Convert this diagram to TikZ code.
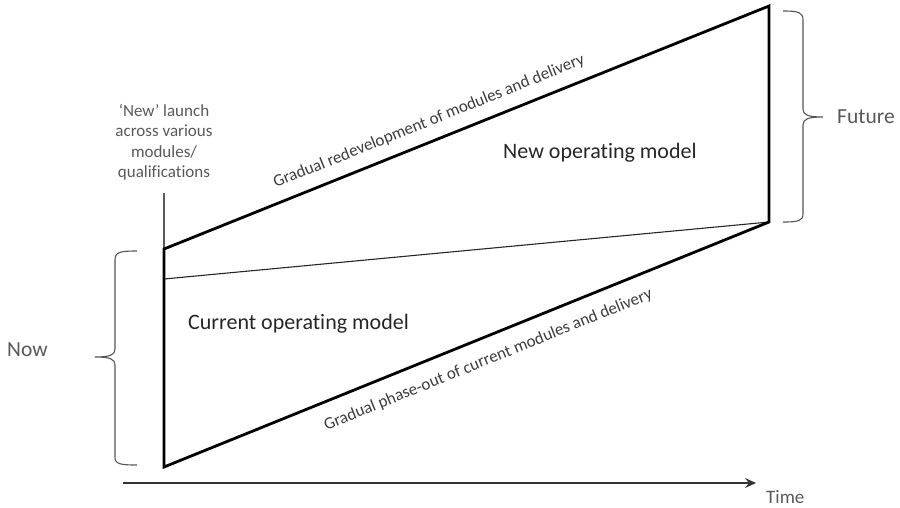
\documentclass[tikz,border=0pt]{standalone}
\usepackage{fontspec}
\setmainfont{Carlito}[Ligatures=NoCommon]
\usetikzlibrary{arrows.meta}
\definecolor{labelgray}{HTML}{595959}
\definecolor{textdark}{HTML}{262626}
\definecolor{bracegray}{HTML}{555555}
\tikzset{
  thickedge/.style={line width=2.8pt, black, line join=miter},
  thinedge/.style={line width=1.1pt, black!85},
  bracepath/.style={line width=1.1pt, bracegray},
  sidelabel/.style={font=\fontsize{21.5pt}{24pt}\selectfont, text=labelgray, inner sep=0pt, anchor=west},
  modellabel/.style={font=\fontsize{22pt}{26pt}\selectfont, text=textdark, inner sep=0pt, anchor=west},
  slantlabel/.style={font=\fontsize{17pt}{20pt}\selectfont, text=textdark!90, inner sep=0pt, sloped},
}
\begin{document}
\begin{tikzpicture}[x=1pt,y=-1pt]
\useasboundingbox (0,0) rectangle (900,507);
% corners
\coordinate (TL) at (164,249);
\coordinate (BL) at (164,467);
\coordinate (TR) at (769,6);
\coordinate (BR) at (769,222);
\coordinate (split) at (164,279);
\coordinate (launchtop) at (164,193);
\coordinate (tstart) at (123,483);
\coordinate (tend) at (756,483);

% thin split line and launch line
\draw[thinedge] (split) -- (BR);
\draw[line width=1.1pt, labelgray] (launchtop) -- (TL);

% parallelogram
\draw[thickedge] (TL) -- (TR) -- (BR) -- (BL) -- cycle;

% slanted labels
\path (TL) -- (TR) node[slantlabel, pos=0.45, above=12pt] (toplab) {Gradual redevelopment of modules and delivery};
\path (BL) -- (BR) node[slantlabel, pos=0.522, below=15pt] (botlab) {Gradual phase-out of current modules and delivery};

% model labels
\node[modellabel] (newmodel) at (503,153) {New operating model};
\node[modellabel] (curmodel) at (188,324) {Current operating model};

% launch label
\node[font=\fontsize{17pt}{20.5pt}\selectfont, text=labelgray, align=center, inner sep=0pt] (launch) at (164,142)
  {‘New’ launch\\across various\\modules/\\qualifications};

% left brace
\draw[bracepath] (137,251) .. controls (120,251) and (115,252) .. (115,260)
  -- (115,349) .. controls (115,355) and (110,357) .. (95,357)
  .. controls (110,357) and (115,359) .. (115,365)
  -- (115,457) .. controls (115,464) and (120,465) .. (137,465);
% right brace
\draw[bracepath] (783,11) .. controls (798,11) and (803,12) .. (803,20)
  -- (803,109) .. controls (803,115) and (808,117) .. (823,117)
  .. controls (808,117) and (803,119) .. (803,125)
  -- (803,214) .. controls (803,221) and (798,222) .. (783,222);

\node[sidelabel] (now) at (7,350) {Now};
\node[sidelabel] (future) at (837,117) {Future};

% time arrow
\draw[line width=1.2pt, black!80, -{Stealth[length=11pt,width=10pt,inset=4pt]}] (tstart) -- (tend);
\node[sidelabel, font=\fontsize{19pt}{22pt}\selectfont] (time) at (766,497) {Time};
\end{tikzpicture}
\end{document}
